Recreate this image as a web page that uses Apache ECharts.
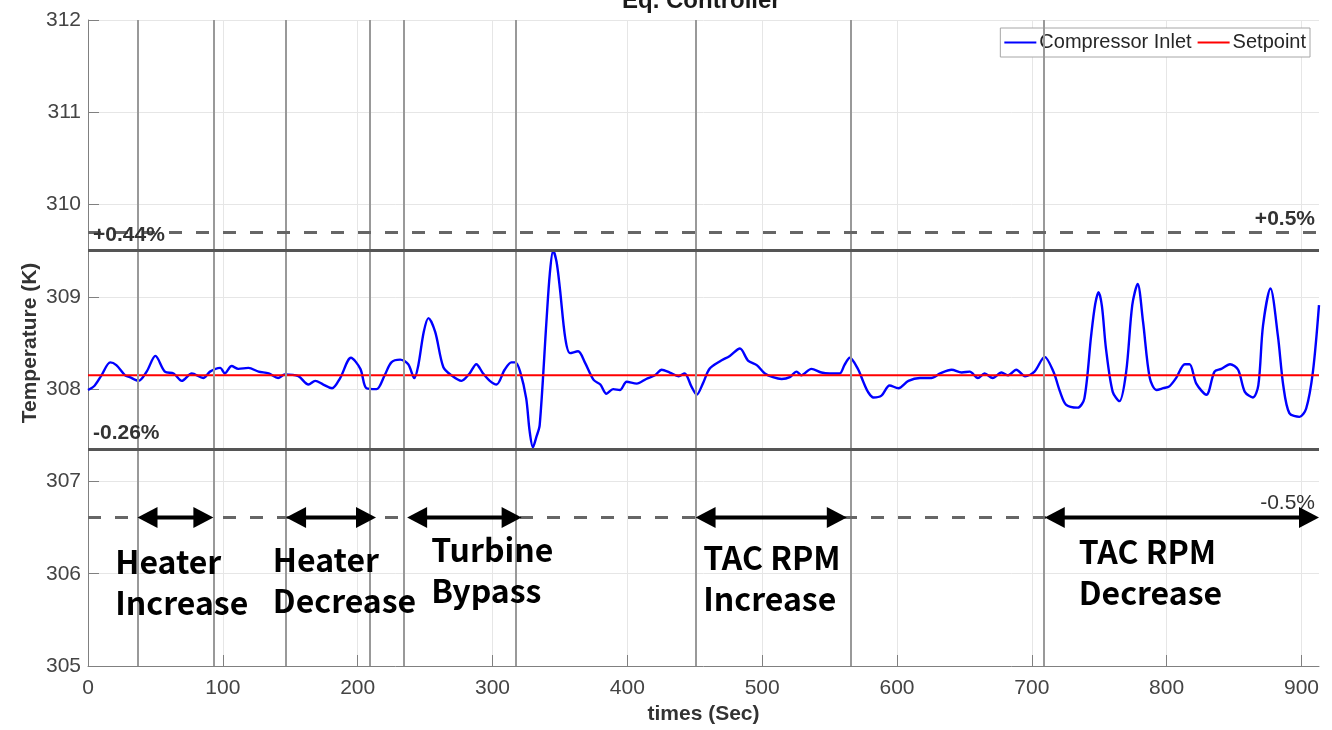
<!DOCTYPE html>
<html>
<head>
<meta charset="utf-8">
<script src="https://cdn.jsdelivr.net/npm/echarts@6/dist/echarts.min.js"></script>
<style>
html,body{margin:0;padding:0;background:#fff;}
#chart{width:1332px;height:730px;}
</style>
</head>
<body>
<div id="chart"></div>
<script>
// ---------------- data ----------------
const chartTitle = 'Eq. Controller';
const seriesNames = ['Compressor Inlet', 'Setpoint'];
const xAxisName = 'times (Sec)';
const yAxisName = 'Temperature (K)';

// time (s), temperature (K)
const compressorInlet = [
  [0,307.99],[5,308.04],[10,308.15],[16.5,308.29],[21,308.26],[27.5,308.15],[31,308.13],
  [37.5,308.09],[43.5,308.19],[50,308.36],[57,308.19],[63.5,308.17],[69.5,308.09],[77,308.17],
  [85.5,308.12],[90.5,308.19],[98,308.23],[101.5,308.17],[106.5,308.25],[111.5,308.22],
  [119,308.23],[126.5,308.19],[134,308.17],[141,308.12],[146,308.16],[156,308.14],
  [163.5,308.05],[168.5,308.09],[174.5,308.05],[181,308.01],[187,308.12],[195,308.34],
  [202,308.22],[206.5,308.01],[214,308.00],[220,308.15],[225,308.29],[231.5,308.32],
  [237.5,308.27],[242,308.12],[245,308.26],[249,308.62],[252.5,308.77],[257.5,308.62],
  [263.5,308.24],[269.5,308.15],[277,308.09],[283,308.17],[288,308.27],[293,308.17],
  [298,308.09],[303,308.05],[309,308.21],[314,308.29],[317,308.29],[320.5,308.19],
  [325,307.90],[327.5,307.55],[330,307.37],[332.5,307.48],[335,307.61],[340,308.73],
  [342.5,309.25],[345,309.50],[347.5,309.38],[350,309.09],[354,308.55],[357.5,308.39],
  [363.5,308.41],[368.5,308.29],[375,308.10],[380,308.05],[384.5,307.95],[389.5,308.00],
  [394.5,307.99],[399.5,308.08],[407,308.06],[414,308.11],[420.5,308.15],[425.5,308.21],
  [431.5,308.18],[438,308.14],[442.5,308.17],[447.5,308.03],[451.5,307.94],[456,308.06],
  [461,308.22],[468.5,308.30],[476,308.36],[483.5,308.44],[489.5,308.31],[496,308.26],
  [502,308.17],[508,308.13],[514.5,308.11],[520.5,308.13],[525.5,308.19],[529,308.15],
  [536.5,308.22],[544,308.18],[550,308.17],[557.5,308.17],[561,308.26],[565,308.34],
  [571,308.22],[575,308.08],[578.5,307.97],[582.5,307.91],[588.5,307.93],[594.5,308.04],
  [601,308.01],[608.5,308.09],[617,308.12],[625.5,308.12],[632,308.17],[640.5,308.21],
  [648,308.18],[654,308.19],[660,308.12],[665,308.17],[671,308.12],[677.5,308.18],
  [682.5,308.15],[688.5,308.21],[695,308.14],[702,308.19],[709.5,308.35],[716,308.19],
  [721,307.97],[725.5,307.83],[734,307.80],[739,307.90],[744,308.58],[747,308.92],
  [749.5,309.05],[752,308.90],[755,308.44],[760,307.97],[765,307.87],[770,308.19],
  [774.5,308.91],[778.5,309.14],[782.5,308.73],[787.5,308.12],[792.5,307.99],[797.5,308.01],
  [802,308.03],[807,308.12],[813.5,308.27],[817,308.27],[822,308.06],[829.5,307.94],
  [835.5,308.19],[840.5,308.22],[847,308.27],[853,308.21],[858,307.97],[864,307.91],
  [868,308.04],[871.5,308.69],[877,309.09],[882.5,308.58],[886.5,308.04],[891,307.74],
  [898.5,307.70],[903.5,307.79],[908.5,308.19],[913,308.91]
];
const timeRange = [0, 913];
const setpointValue = 308.15;

const upperDashed = 309.70;   // +0.5 %
const upperSolid = 309.51;    // +0.44 %
const lowerSolid = 307.35;    // -0.26 %
const lowerDashed = 306.61;   // -0.5 %
const bandLabels = ['+0.5%', '+0.44%', '-0.26%', '-0.5%'];

const eventLines = [36.7, 93, 146.9, 209.2, 233.9, 317.4, 450.6, 565.5, 708.8];
const arrowSpans = [[36.7, 93], [146.9, 213.6], [236.7, 321.6], [450.6, 562.8], [709.6, 913]];
const eventLabels = [
  ['Heater', 'Increase'],
  ['Heater', 'Decrease'],
  ['Turbine', 'Bypass'],
  ['TAC RPM', 'Increase'],
  ['TAC RPM', 'Decrease']
];
const eventLabelAnchors = [[20.2, 306.13], [137.1, 306.15], [254.5, 306.26], [456.3, 306.17], [734.8, 306.235]];

// ---------------- chart ----------------
const chart = echarts.init(document.getElementById('chart'), null, {renderer: 'canvas'});
const tickFont = {fontFamily: '"Liberation Sans", Arial, sans-serif', fontSize: 21, color: '#444'};
const bandLabelStyle = {fontFamily: '"Liberation Sans", Arial, sans-serif', fontSize: 21, fontWeight: 'bold', color: '#333'};
const annFont = 'bold 32px "Noto Sans CJK KR", "Noto Sans", sans-serif';

const option = {
  backgroundColor: '#fff',
  animation: false,
  title: {
    text: chartTitle,
    left: 622,
    top: -11,
    padding: 0,
    textStyle: {fontFamily: '"Liberation Sans", Arial, sans-serif', fontSize: 24, fontWeight: 'bold', color: '#1a1a1a'}
  },
  legend: {
    data: seriesNames,
    right: 22,
    top: 28,
    orient: 'horizontal',
    icon: 'rect',
    itemWidth: 32,
    itemHeight: 2,
    itemGap: 6,
    padding: [4, 4],
    borderColor: '#a6a6a6',
    borderWidth: 1,
    backgroundColor: '#fff',
    textStyle: {fontFamily: '"Liberation Sans", Arial, sans-serif', fontSize: 20, color: '#262626', padding: [0, 0, 0, -2], lineHeight: 21}
  },
  grid: {left: 88, right: 13, top: 20, bottom: 62, containLabel: false},
  xAxis: {
    type: 'value',
    min: timeRange[0],
    max: timeRange[1],
    interval: 100,
    name: xAxisName,
    nameLocation: 'middle',
    nameGap: 38,
    nameMoveOverlap: false,
    nameTextStyle: {fontFamily: '"Liberation Sans", Arial, sans-serif', fontSize: 21, fontWeight: 'bold', color: '#333'},
    axisLine: {show: true, onZero: false, lineStyle: {color: '#808080', width: 1}},
    axisTick: {show: true, inside: true, length: 11, lineStyle: {color: '#808080'}},
    axisLabel: {show: true, margin: 12, ...tickFont, showMaxLabel: false},
    splitLine: {show: true, showMaxLine: false, lineStyle: {color: '#e6e6e6', width: 1}}
  },
  yAxis: {
    type: 'value',
    min: 305,
    max: 312,
    interval: 1,
    name: yAxisName,
    nameLocation: 'middle',
    nameRotate: 90,
    nameGap: 47,
    nameMoveOverlap: false,
    nameTextStyle: {fontFamily: '"Liberation Sans", Arial, sans-serif', fontSize: 21, fontWeight: 'bold', color: '#333'},
    axisLine: {show: true, lineStyle: {color: '#808080', width: 1}},
    axisTick: {show: true, inside: true, length: 11, lineStyle: {color: '#808080'}},
    axisLabel: {show: true, margin: 7, ...tickFont},
    splitLine: {show: true, lineStyle: {color: '#e6e6e6', width: 1}}
  },
  series: [
    {
      name: 'events',
      type: 'line',
      data: [],
      silent: true,
      z: 1,
      markLine: {
        silent: true,
        symbol: 'none',
        animation: false,
        label: {show: false},
        lineStyle: {color: '#999', width: 2, type: 'solid'},
        data: eventLines.map(v => ({xAxis: v}))
      }
    },
    {
      name: seriesNames[0],
      type: 'line',
      data: compressorInlet,
      symbol: 'none',
      smooth: 0.3,
      z: 3,
      lineStyle: {color: '#0000ff', width: 2.4},
      itemStyle: {color: '#0000ff'}
    },
    {
      name: seriesNames[1],
      type: 'line',
      data: [[timeRange[0], setpointValue], [timeRange[1], setpointValue]],
      symbol: 'none',
      z: 4,
      lineStyle: {color: '#ff0000', width: 2},
      itemStyle: {color: '#ff0000'}
    },
    {
      name: 'bands',
      type: 'line',
      data: [],
      silent: true,
      z: 5,
      markLine: {
        silent: true,
        symbol: 'none',
        animation: false,
        data: [
          {yAxis: upperDashed, lineStyle: {color: '#666', width: 3, type: [13, 14]},
            label: {show: true, formatter: bandLabels[0], position: 'insideEndTop', distance: [4, 3], ...bandLabelStyle}},
          {yAxis: upperSolid, lineStyle: {color: '#555', width: 3, type: 'solid'},
            label: {show: true, formatter: bandLabels[1], position: 'insideStartTop', distance: [5, 4], ...bandLabelStyle}},
          {yAxis: lowerSolid, lineStyle: {color: '#555', width: 3, type: 'solid'},
            label: {show: true, formatter: bandLabels[2], position: 'insideStartTop', distance: [5, 5], ...bandLabelStyle}},
          {yAxis: lowerDashed, lineStyle: {color: '#666', width: 3, type: [13, 14]},
            label: {show: true, formatter: bandLabels[3], position: 'insideEndTop', distance: [4, 4], ...bandLabelStyle, fontWeight: 'normal'}}
        ]
      }
    },
    {
      name: 'arrows',
      type: 'custom',
      silent: true,
      clip: false,
      z: 6,
      data: arrowSpans.map(s => [s[0], s[1], lowerDashed]),
      encode: {x: [0, 1], y: 2},
      renderItem: function (params, api) {
        const a = api.coord([api.value(0), api.value(2)]);
        const b = api.coord([api.value(1), api.value(2)]);
        const L = 20, H = 10.5;
        return {
          type: 'group',
          children: [
            {type: 'line', shape: {x1: a[0] + L - 2, y1: a[1], x2: b[0] - L + 2, y2: b[1]}, style: {stroke: '#000', lineWidth: 4}},
            {type: 'polygon', shape: {points: [[a[0], a[1]], [a[0] + L, a[1] - H], [a[0] + L, a[1] + H]]}, style: {fill: '#000'}},
            {type: 'polygon', shape: {points: [[b[0], b[1]], [b[0] - L, b[1] - H], [b[0] - L, b[1] + H]]}, style: {fill: '#000'}}
          ]
        };
      }
    },
    {
      name: 'eventText',
      type: 'custom',
      silent: true,
      clip: false,
      z: 7,
      data: eventLabelAnchors.map((p, i) => [p[0], p[1], i]),
      encode: {x: 0, y: 1},
      renderItem: function (params, api) {
        const p = api.coord([api.value(0), api.value(1)]);
        const lines = eventLabels[api.value(2)];
        return {
          type: 'group',
          children: lines.map((t, k) => ({
            type: 'text',
            x: p[0],
            y: p[1] + k * 41,
            style: {text: t, font: annFont, fill: '#000', align: 'left', verticalAlign: 'middle'}
          }))
        };
      }
    }
  ]
};
chart.setOption(option);
</script>
</body>
</html>
